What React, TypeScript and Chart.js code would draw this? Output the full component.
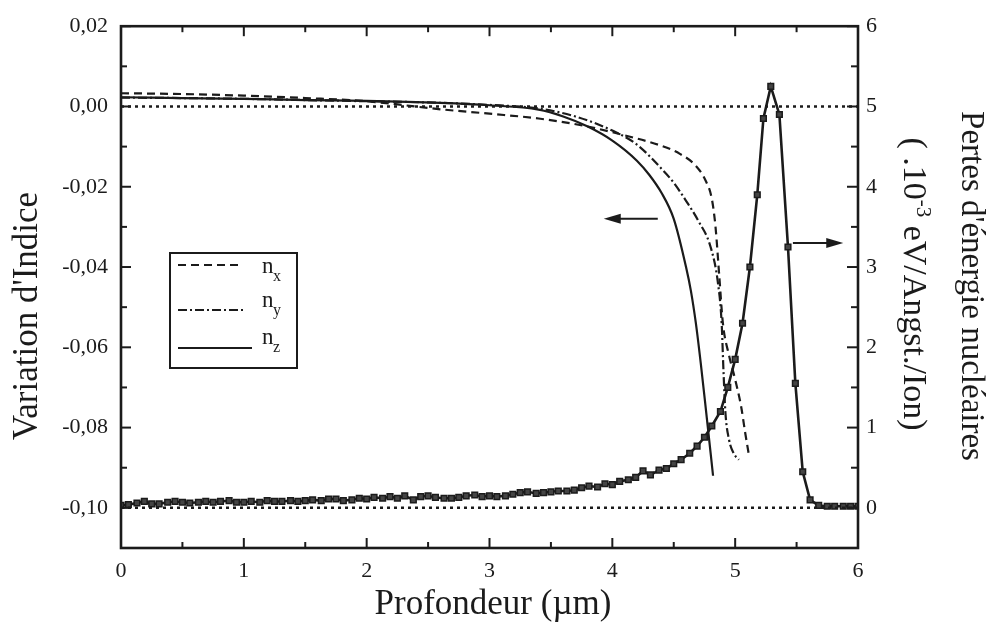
import React, { useEffect, useRef } from "react";
import { Chart, registerables } from "chart.js";

Chart.register(...registerables);

const INK = "#1b1b1b";
const SERIF = "'Liberation Serif', 'DejaVu Serif', serif";

// ---- index variation curves (left axis) ----
const nxDepth = [0, 0.5, 1, 1.5, 2, 2.6, 3, 3.4, 3.8, 4.1, 4.4, 4.55, 4.68, 4.76, 4.81, 4.84, 4.87, 4.9, 4.95, 5.0, 5.05, 5.08, 5.11];
const nxIndex = [0.0033, 0.0031, 0.0027, 0.0021, 0.0013, -0.0007, -0.0018, -0.003, -0.005, -0.0072, -0.0098, -0.0118, -0.0148, -0.0185, -0.023, -0.03, -0.042, -0.054, -0.062, -0.068, -0.075, -0.081, -0.0865];

const nyDepth = [0, 0.5, 1, 1.5, 2, 2.5, 3, 3.4, 3.7, 4.0, 4.2, 4.4, 4.5, 4.6, 4.7, 4.8, 4.86, 4.89, 4.905, 4.92, 4.95, 4.99, 5.03];
const nyIndex = [0.0022, 0.0021, 0.0019, 0.0016, 0.0013, 0.001, 0.0004, -0.0005, -0.0025, -0.006, -0.0095, -0.0155, -0.019, -0.0235, -0.0285, -0.035, -0.044, -0.054, -0.066, -0.076, -0.083, -0.0865, -0.088];

const nzDepth = [0, 0.5, 1, 1.5, 2, 2.6, 3, 3.4, 3.6, 3.8, 4.0, 4.2, 4.3, 4.4, 4.5, 4.6, 4.64, 4.68, 4.72, 4.76, 4.82];
const nzIndex = [0.0023, 0.0021, 0.0019, 0.0016, 0.0014, 0.0009, 0.0003, -0.0008, -0.0025, -0.005, -0.0085, -0.0135, -0.017, -0.0215, -0.028, -0.04, -0.046, -0.054, -0.064, -0.075, -0.092];

// ---- reference dotted lines ----
const refDepth = [0, 6];
const zeroLine = [0, 0];
const baseLine = [-0.1, -0.1];

// ---- nuclear energy loss (right axis, 10^-3 eV/Angst./Ion) ----
const lossDepth = [
  0, 0.06, 0.13, 0.19, 0.25, 0.31, 0.38, 0.44, 0.5, 0.56, 0.63, 0.69, 0.75, 0.81, 0.88, 0.94,
  1, 1.06, 1.13, 1.19, 1.25, 1.31, 1.38, 1.44, 1.5, 1.56, 1.63, 1.69, 1.75, 1.81, 1.88, 1.94,
  2, 2.06, 2.13, 2.19, 2.25, 2.31, 2.38, 2.44, 2.5, 2.56, 2.63, 2.69, 2.75, 2.81, 2.88, 2.94,
  3, 3.06, 3.13, 3.19, 3.25, 3.31, 3.38, 3.44, 3.5, 3.56, 3.63, 3.69, 3.75, 3.81, 3.88, 3.94,
  4, 4.06, 4.13, 4.19, 4.25, 4.31, 4.38, 4.44, 4.5, 4.56, 4.63, 4.69, 4.75, 4.81, 4.88, 4.94,
  5, 5.06, 5.12, 5.18, 5.23, 5.29, 5.36, 5.43, 5.49, 5.55, 5.61, 5.68, 5.75, 5.81, 5.88, 5.94, 6,
];
const lossValue = [
  0.03, 0.04, 0.06, 0.08, 0.05, 0.05, 0.07, 0.08, 0.07, 0.06, 0.07, 0.08, 0.07, 0.08, 0.09, 0.07,
  0.07, 0.08, 0.07, 0.09, 0.08, 0.08, 0.09, 0.08, 0.09, 0.1, 0.09, 0.11, 0.11, 0.09, 0.1, 0.12,
  0.11, 0.13, 0.12, 0.14, 0.12, 0.15, 0.1, 0.14, 0.15, 0.13, 0.12, 0.12, 0.13, 0.15, 0.16, 0.14,
  0.15, 0.14, 0.15, 0.17, 0.19, 0.2, 0.18, 0.19, 0.2, 0.21, 0.21, 0.22, 0.25, 0.27, 0.26, 0.3,
  0.29, 0.33, 0.35, 0.38, 0.46, 0.41, 0.47, 0.49, 0.55, 0.6, 0.68, 0.77, 0.88, 1.02, 1.2, 1.5,
  1.85, 2.3, 3.0, 3.9, 4.85, 5.25, 4.9, 3.25, 1.55, 0.45, 0.1, 0.03, 0.02, 0.02, 0.02, 0.02, 0.02,
];

// ---- ticks ----
const xMajorTicks = [0, 1, 2, 3, 4, 5, 6];
const xMinorTicks = [0.5, 1.5, 2.5, 3.5, 4.5, 5.5];
const leftMajorTicks = [-0.1, -0.08, -0.06, -0.04, -0.02, 0, 0.02];
const leftMinorTicks = [-0.09, -0.07, -0.05, -0.03, -0.01, 0.01];
const rightMajorTicks = [0, 1, 2, 3, 4, 5, 6];
const rightMinorTicks = [0.5, 1.5, 2.5, 3.5, 4.5, 5.5];

// ---- annotations (arrows) ----
const leftArrowDepth = [4.37, 3.93];
const leftArrowIndex = -0.028;
const rightArrowDepth = [5.47, 5.88];
const rightArrowLoss = 3.3;

// ---- legend ----
const legendLabels = ["x", "y", "z"];
const legendDashes = [[8, 5], [9, 3, 2, 3], []];

const pts = (xs: number[], ys: number[]) => xs.map((x, i) => ({ x, y: ys[i] }));

const decorPlugin = {
  id: "decor",
  afterDraw(chart: any) {
    const { ctx, chartArea: a, scales } = chart;
    const sx = scales.x;
    const sl = scales.y;
    const sr = scales.y2;
    ctx.save();
    ctx.strokeStyle = INK;
    ctx.fillStyle = INK;
    ctx.setLineDash([]);
    const seg = (x1: number, y1: number, x2: number, y2: number) => {
      ctx.beginPath();
      ctx.moveTo(x1, y1);
      ctx.lineTo(x2, y2);
      ctx.stroke();
    };
    const MAJ = 10;
    const MIN = 6;
    ctx.lineWidth = 2;
    xMajorTicks.forEach((v) => {
      const p = sx.getPixelForValue(v);
      seg(p, a.bottom, p, a.bottom - MAJ);
      seg(p, a.top, p, a.top + MAJ);
    });
    xMinorTicks.forEach((v) => {
      const p = sx.getPixelForValue(v);
      seg(p, a.bottom, p, a.bottom - MIN);
      seg(p, a.top, p, a.top + MIN);
    });
    leftMajorTicks.forEach((v) => {
      const p = sl.getPixelForValue(v);
      seg(a.left, p, a.left + MAJ, p);
    });
    leftMinorTicks.forEach((v) => {
      const p = sl.getPixelForValue(v);
      seg(a.left, p, a.left + MIN, p);
    });
    rightMajorTicks.forEach((v) => {
      const p = sr.getPixelForValue(v);
      seg(a.right, p, a.right - MAJ - 1, p);
    });
    rightMinorTicks.forEach((v) => {
      const p = sr.getPixelForValue(v);
      seg(a.right, p, a.right - MIN - 1, p);
    });

    // frame
    ctx.lineWidth = 2.6;
    ctx.strokeRect(a.left, a.top, a.right - a.left, a.bottom - a.top);

    // arrows
    const arrow = (x1: number, x2: number, y: number) => {
      ctx.lineWidth = 2;
      const dir = Math.sign(x2 - x1);
      seg(x1, y, x2 - dir * 10, y);
      ctx.beginPath();
      ctx.moveTo(x2, y);
      ctx.lineTo(x2 - dir * 17, y - 5);
      ctx.lineTo(x2 - dir * 17, y + 5);
      ctx.closePath();
      ctx.fill();
    };
    arrow(
      sx.getPixelForValue(leftArrowDepth[0]),
      sx.getPixelForValue(leftArrowDepth[1]),
      sl.getPixelForValue(leftArrowIndex)
    );
    arrow(
      sx.getPixelForValue(rightArrowDepth[0]),
      sx.getPixelForValue(rightArrowDepth[1]),
      sr.getPixelForValue(rightArrowLoss)
    );

    // legend box
    ctx.lineWidth = 2;
    ctx.strokeRect(170, 253, 127, 115);
    const rowsY = [265, 310, 348];
    const lineEnds = [240, 245, 252];
    const baseY = [273, 307, 344];
    legendLabels.forEach((lab, i) => {
      ctx.setLineDash(legendDashes[i]);
      ctx.lineWidth = 2;
      seg(178, rowsY[i], lineEnds[i], rowsY[i]);
      ctx.setLineDash([]);
      ctx.textAlign = "left";
      ctx.textBaseline = "alphabetic";
      ctx.font = `23px ${SERIF}`;
      ctx.fillText("n", 262, baseY[i]);
      ctx.font = `16px ${SERIF}`;
      ctx.fillText(lab, 273, baseY[i] + 8);
    });

    // axis titles
    ctx.textBaseline = "alphabetic";
    ctx.textAlign = "center";
    ctx.font = `35px ${SERIF}`;
    ctx.fillText("Profondeur (µm)", 493, 614);

    ctx.save();
    ctx.translate(37, 316);
    ctx.rotate(-Math.PI / 2);
    ctx.fillText("Variation d'Indice", 0, 0);
    ctx.restore();

    ctx.save();
    ctx.translate(962, 286);
    ctx.rotate(Math.PI / 2);
    ctx.font = `33px ${SERIF}`;
    ctx.fillText("Pertes d'énergie nucléaires", 0, 0);
    ctx.restore();

    ctx.save();
    ctx.translate(904, 284);
    ctx.rotate(Math.PI / 2);
    ctx.textAlign = "left";
    const big = `34px ${SERIF}`;
    const small = `21px ${SERIF}`;
    const p1 = "( .10";
    const p2 = "-3";
    const p3 = " eV/Angst./Ion)";
    ctx.font = big;
    const w1 = ctx.measureText(p1).width;
    const w3 = ctx.measureText(p3).width;
    ctx.font = small;
    const w2 = ctx.measureText(p2).width;
    let cx = -(w1 + w2 + w3) / 2;
    ctx.font = big;
    ctx.fillText(p1, cx, 0);
    cx += w1;
    ctx.font = small;
    ctx.fillText(p2, cx, -13);
    cx += w2;
    ctx.font = big;
    ctx.fillText(p3, cx, 0);
    ctx.restore();

    ctx.restore();
  },
};

export default function App() {
  const canvasRef = useRef<HTMLCanvasElement | null>(null);

  useEffect(() => {
    document.body.style.margin = "0";
    document.body.style.overflow = "hidden";
    const canvas = canvasRef.current;
    if (!canvas) return;
    const tickFont = { family: SERIF, size: 22 };
    const hiddenGrid = { display: false, drawTicks: false };
    const chart = new Chart(canvas, {
      type: "line",
      data: {
        datasets: [
          {
            label: "zero",
            data: pts(refDepth, zeroLine),
            yAxisID: "y",
            borderColor: INK,
            borderWidth: 2.5,
            borderDash: [3, 4],
            pointRadius: 0,
          },
          {
            label: "base",
            data: pts(refDepth, baseLine),
            yAxisID: "y",
            borderColor: INK,
            borderWidth: 2.5,
            borderDash: [3, 4],
            pointRadius: 0,
          },
          {
            label: "nx",
            data: pts(nxDepth, nxIndex),
            yAxisID: "y",
            borderColor: INK,
            borderWidth: 2.2,
            borderDash: [8, 5],
            pointRadius: 0,
            cubicInterpolationMode: "monotone",
          },
          {
            label: "ny",
            data: pts(nyDepth, nyIndex),
            yAxisID: "y",
            borderColor: INK,
            borderWidth: 2.2,
            borderDash: [9, 3, 2, 3],
            pointRadius: 0,
            cubicInterpolationMode: "monotone",
          },
          {
            label: "nz",
            data: pts(nzDepth, nzIndex),
            yAxisID: "y",
            borderColor: INK,
            borderWidth: 2.2,
            pointRadius: 0,
            cubicInterpolationMode: "monotone",
          },
          {
            label: "loss",
            data: pts(lossDepth, lossValue),
            yAxisID: "y2",
            borderColor: INK,
            borderWidth: 2.6,
            pointStyle: "rect",
            pointRadius: 4,
            pointBackgroundColor: "#444",
            pointBorderColor: INK,
            pointBorderWidth: 1.5,
            tension: 0,
          },
        ],
      },
      options: {
        responsive: false,
        animation: false,
        events: [],
        layout: { padding: { top: 21, left: 0, right: 0, bottom: 0 } },
        plugins: { legend: { display: false }, tooltip: { enabled: false }, title: { display: false } },
        scales: {
          x: {
            type: "linear",
            position: "bottom",
            min: 0,
            max: 6,
            grid: hiddenGrid,
            border: { display: false },
            ticks: { font: tickFont, color: INK, padding: 10, maxRotation: 0 },
            afterBuildTicks: (s: any) => {
              s.ticks = xMajorTicks.map((v) => ({ value: v }));
            },
            afterFit: (s: any) => {
              s.height = 85;
            },
          },
          y: {
            type: "linear",
            position: "left",
            min: -0.11,
            max: 0.02,
            grid: hiddenGrid,
            border: { display: false },
            ticks: {
              font: tickFont,
              color: INK,
              padding: 13,
              callback: (v: any) => Number(v).toFixed(2).replace(".", ","),
            },
            afterBuildTicks: (s: any) => {
              s.ticks = leftMajorTicks.map((v) => ({ value: v }));
            },
            afterFit: (s: any) => {
              s.width = 121;
            },
          },
          y2: {
            type: "linear",
            position: "right",
            min: -0.5,
            max: 6,
            grid: hiddenGrid,
            border: { display: false },
            ticks: { font: tickFont, color: INK, padding: 8 },
            afterBuildTicks: (s: any) => {
              s.ticks = rightMajorTicks.map((v) => ({ value: v }));
            },
            afterFit: (s: any) => {
              s.width = 135;
            },
          },
        },
      },
      plugins: [decorPlugin],
    } as any);
    return () => chart.destroy();
  }, []);

  return (
    <div style={{ width: 993, height: 633, background: "#fff" }}>
      <canvas ref={canvasRef} width={993} height={633} />
    </div>
  );
}
